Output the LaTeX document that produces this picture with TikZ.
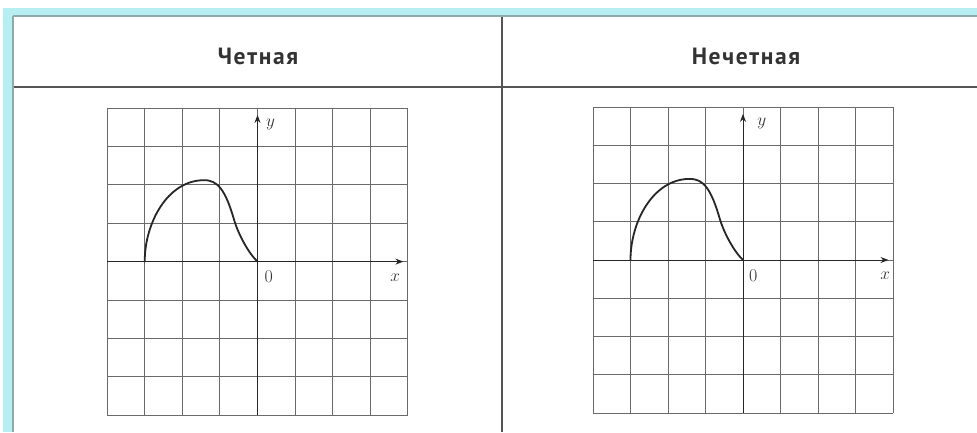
\documentclass[tikz,border=0pt]{standalone}
\usepackage{fontspec}
\newfontfamily\headfont[LetterSpace=7]{PT Sans}
\usetikzlibrary{arrows.meta}
\definecolor{cyanband}{HTML}{B6EEF2}
\definecolor{bandline}{HTML}{8FAAAC}
\definecolor{rulecol}{HTML}{555555}
\definecolor{gridcol}{HTML}{6A6A6A}
\definecolor{headtext}{HTML}{333333}
\tikzset{
  gridline/.style={draw=gridcol, line width=0.9pt},
  axisline/.style={draw=black!85, line width=1.0pt, -{Stealth[length=8pt,width=6pt]}},
  curveline/.style={draw=black!85, line width=1.8pt, line cap=round, line join=round},
  rulestyle/.style={draw=rulecol, line width=1.2pt},
  headlabel/.style={font=\headfont\bfseries\fontsize{23.5}{26}\selectfont, text=headtext},
  axlabel/.style={font=\fontsize{18}{20}\selectfont, text=black!80, inner sep=0pt},
}
\newcommand\mygraph[4]{%
  \foreach \i in {-4,...,4} {
    \draw[gridline] (\i,-4) -- (\i,4);
    \draw[gridline] (-4,\i) -- (4,\i);
  }
  \coordinate (#1-o) at (0,0);
  \coordinate (#1-xs) at (-4,0);
  \coordinate (#1-xe) at (3.88,0);
  \coordinate (#1-ys) at (0,-4);
  \coordinate (#1-ye) at (0,3.82);
  \coordinate (#1-c0) at (-3,0);
  \coordinate (#1-c1) at (-1.45,2.12);
  \coordinate (#1-c2) at (-0.62,1.08);
  \draw[axisline] (#1-xs) -- (#1-xe);
  \draw[axisline] (#1-ys) -- (#1-ye);
  \draw[curveline] (#1-c0) .. controls (-3,1.0) and (-2.4,2.1) .. (#1-c1)
    .. controls (-1.05,2.14) and (-0.85,1.85) .. (#1-c2)
    .. controls (-0.5,0.68) and (-0.22,0.2) .. (#1-o);
  \node[axlabel] (#1-ylab) at #2 {$y$};
  \node[axlabel] (#1-xlab) at #3 {$x$};
  \node[axlabel] (#1-zero) at #4 {0};
}
\begin{document}
\begin{tikzpicture}[x=1pt,y=-1pt]
  \useasboundingbox (0,0) rectangle (977,432);
  \fill[white] (0,0) rectangle (977,432);
  % cyan frame
  \fill[cyanband] (4,8) rectangle (977,17);
  \fill[cyanband] (3,8) rectangle (13,432);
  \draw[bandline, line width=1.6pt] (13,16) -- (977,16);
  \draw[bandline, line width=2pt] (13,16) -- (13,432);
  % table rules
  \coordinate (hl) at (14,87);
  \coordinate (hr) at (977,87);
  \coordinate (vt) at (502,17);
  \coordinate (vb) at (502,432);
  \draw[rulestyle] (hl) -- (hr);
  \draw[rulestyle] (vt) -- (vb);
  % headers
  \node[headlabel] (even) at (258,56) {Четная};
  \node[headlabel] (odd) at (746,56) {Нечетная};
  % left graph
  \begin{scope}[shift={(257.5pt,-261.6pt)}, x=37.6pt, y=38.4pt]
    \mygraph{L}{(0.35,3.56)}{(3.66,-0.42)}{(0.3,-0.38)}
  \end{scope}
  % right graph
  \begin{scope}[shift={(743pt,-260pt)}, x=37.5pt, y=38.25pt]
    \mygraph{R}{(0.5,3.58)}{(3.79,-0.4)}{(0.27,-0.4)}
  \end{scope}
\end{tikzpicture}
\end{document}
